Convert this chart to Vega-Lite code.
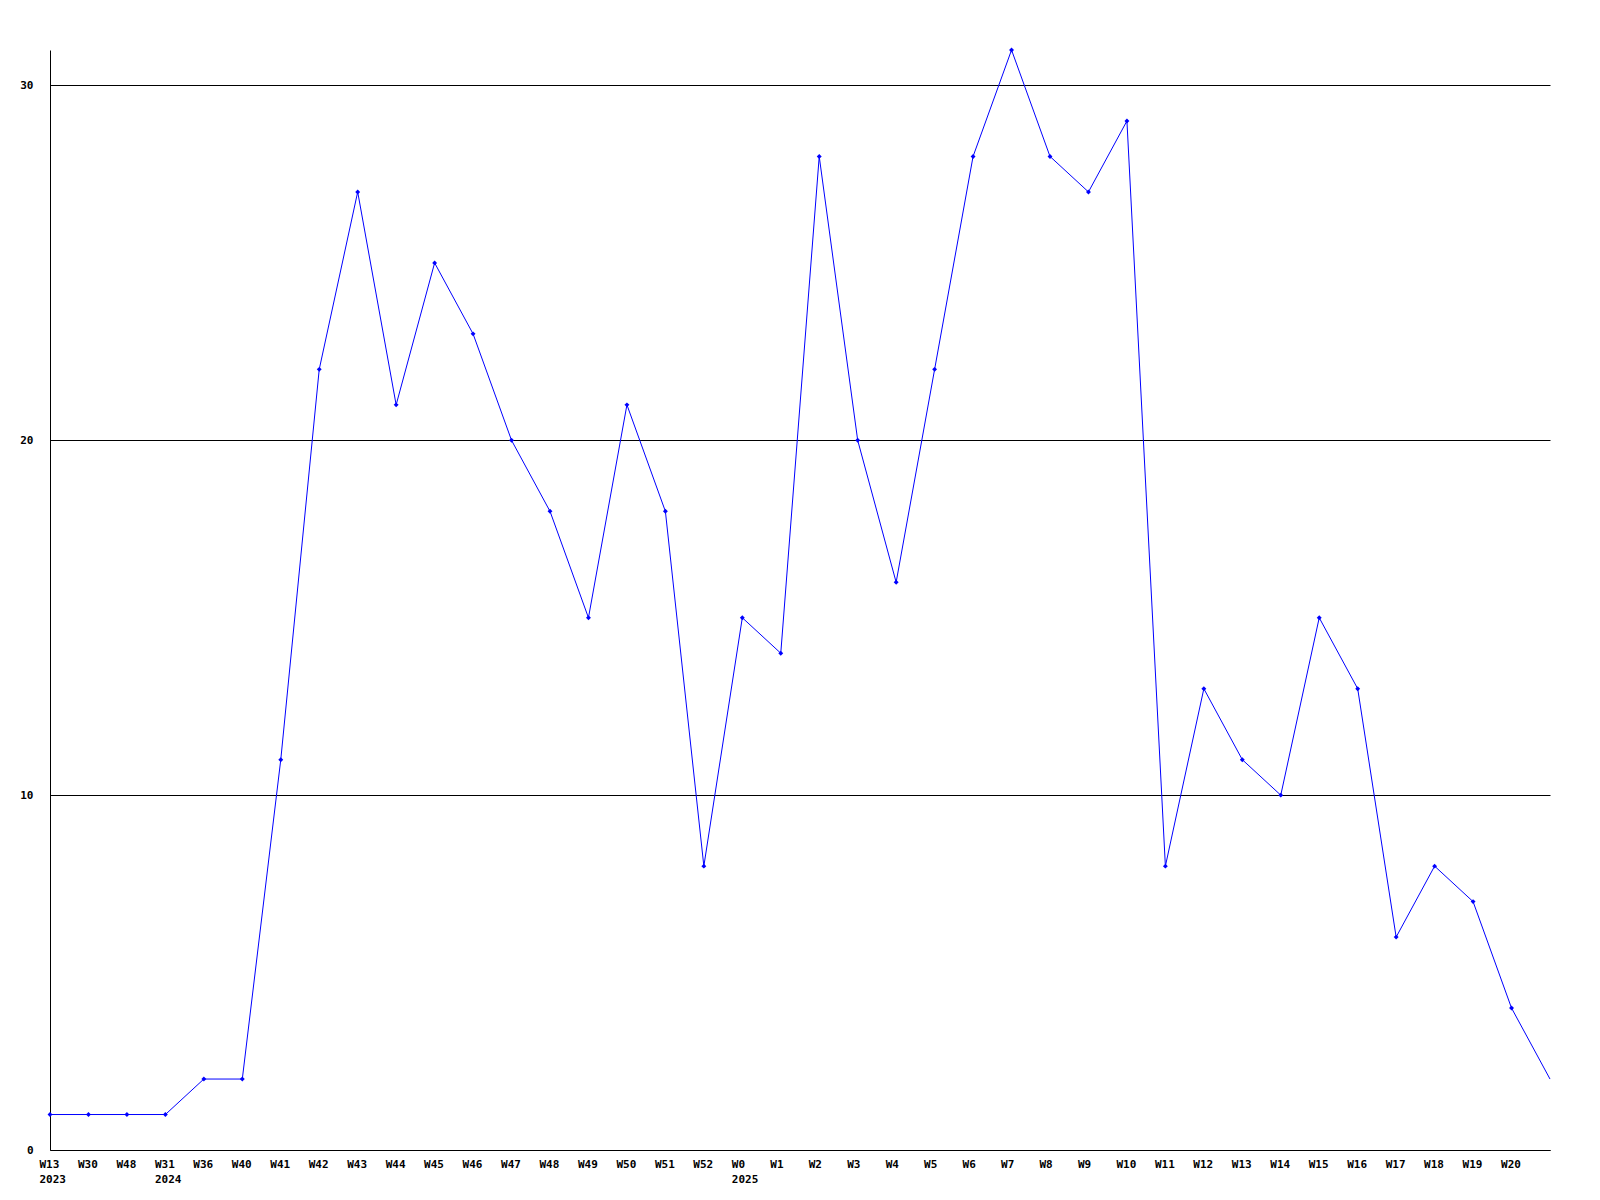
{
  "$schema": "https://vega.github.io/schema/vega-lite/v6.json",
  "autosize": "none",
  "width": 1500,
  "height": 1100,
  "padding": {"left": 50, "top": 50, "right": 50, "bottom": 50},
  "background": "white",
  "config": {"view": {"stroke": null}},
  "data": {"values": [
    {"k": "2023 W13", "n": 1},
    {"k": "2023 W30", "n": 1},
    {"k": "2023 W48", "n": 1},
    {"k": "2024 W31", "n": 1},
    {"k": "2024 W36", "n": 2},
    {"k": "2024 W40", "n": 2},
    {"k": "2024 W41", "n": 11},
    {"k": "2024 W42", "n": 22},
    {"k": "2024 W43", "n": 27},
    {"k": "2024 W44", "n": 21},
    {"k": "2024 W45", "n": 25},
    {"k": "2024 W46", "n": 23},
    {"k": "2024 W47", "n": 20},
    {"k": "2024 W48", "n": 18},
    {"k": "2024 W49", "n": 15},
    {"k": "2024 W50", "n": 21},
    {"k": "2024 W51", "n": 18},
    {"k": "2024 W52", "n": 8},
    {"k": "2025 W0", "n": 15},
    {"k": "2025 W1", "n": 14},
    {"k": "2025 W2", "n": 28},
    {"k": "2025 W3", "n": 20},
    {"k": "2025 W4", "n": 16},
    {"k": "2025 W5", "n": 22},
    {"k": "2025 W6", "n": 28},
    {"k": "2025 W7", "n": 31},
    {"k": "2025 W8", "n": 28},
    {"k": "2025 W9", "n": 27},
    {"k": "2025 W10", "n": 29},
    {"k": "2025 W11", "n": 8},
    {"k": "2025 W12", "n": 13},
    {"k": "2025 W13", "n": 11},
    {"k": "2025 W14", "n": 10},
    {"k": "2025 W15", "n": 15},
    {"k": "2025 W16", "n": 13},
    {"k": "2025 W17", "n": 6},
    {"k": "2025 W18", "n": 8},
    {"k": "2025 W19", "n": 7},
    {"k": "2025 W20", "n": 4},
    {"k": "2025 W21", "n": 2}
  ]},
  "encoding": {
    "x": {
      "field": "k",
      "type": "ordinal",
      "sort": null,
      "scale": {"type": "point", "padding": 0},
      "axis": {
        "title": null,
        "labelAngle": 0,
        "labelAlign": "left",
        "labelBaseline": "top",
        "labelOffset": -11,
        "labelPadding": 8,
        "labelLineHeight": 15,
        "labelOverlap": false,
        "labelFlush": false,
        "labelFont": "DejaVu Sans Mono",
        "labelFontWeight": "bold",
        "labelFontSize": 11,
        "labelColor": "black",
        "ticks": false,
        "domainColor": "black",
        "domainWidth": 1,
        "grid": false,
        "labelExpr": "indexof(['2023 W13','2024 W31','2025 W0'], datum.value) >= 0 ? [split(datum.value,' ')[1], split(datum.value,' ')[0]] : (datum.value == '2025 W21' ? '' : split(datum.value,' ')[1])"
      }
    },
    "y": {
      "field": "n",
      "type": "quantitative",
      "scale": {"domain": [0, 31], "nice": false, "zero": true},
      "axis": {
        "title": null,
        "values": [0, 10, 20, 30],
        "grid": true,
        "gridColor": "black",
        "gridOpacity": 1,
        "gridWidth": 1,
        "ticks": false,
        "domainColor": "black",
        "domainWidth": 1,
        "labelPadding": 17,
        "labelFont": "DejaVu Sans Mono",
        "labelFontWeight": "bold",
        "labelFontSize": 11,
        "labelColor": "black",
        "labelBaseline": "middle"
      }
    }
  },
  "layer": [
    {"mark": {"type": "line", "color": "#0000FF", "strokeWidth": 1}},
    {
      "transform": [{"filter": "datum.k != '2025 W21'"}],
      "mark": {"type": "point", "shape": "diamond", "filled": true, "color": "#0000FF", "size": 24, "opacity": 1}
    }
  ]
}
